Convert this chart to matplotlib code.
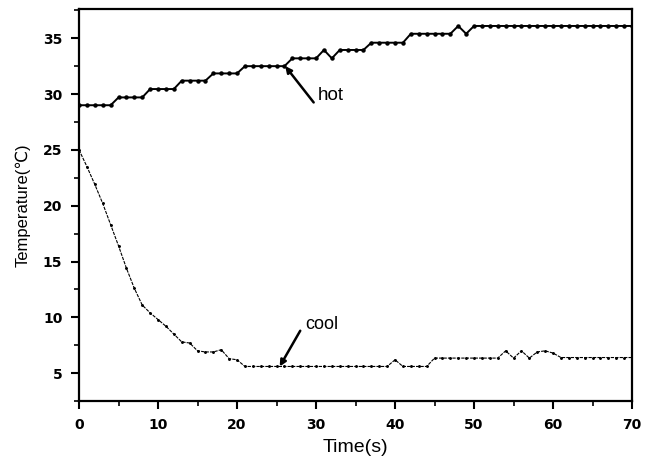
import matplotlib
matplotlib.use("Agg")
import matplotlib.pyplot as plt
from matplotlib.ticker import MultipleLocator

plt.rcParams['font.family'] = ['Liberation Sans', 'DejaVu Sans']

time = list(range(0, 71))

hot = ([29.0] * 5 + [29.7] * 4 + [30.45] * 4 + [31.2] * 4 + [31.85] * 4 +
       [32.5] * 6 + [33.2] * 4 + [33.95, 33.2] + [33.95] * 4 + [34.6] * 5 +
       [35.4] * 6 + [36.1, 35.4] + [36.1] * 21)

cool = ([25.0, 23.5, 21.9, 20.2, 18.3, 16.4, 14.4, 12.6, 11.1, 10.4,
         9.8, 9.2, 8.5, 7.8, 7.7, 7.0, 6.9, 6.9, 7.1, 6.3, 6.2] +
        [5.6] * 19 + [6.2] + [5.6] * 4 + [6.35] * 9 +
        [7.0, 6.35, 7.0, 6.35, 6.9, 7.0, 6.8] + [6.4] * 10)

fig = plt.figure(figsize=(6.51, 4.61), dpi=100)
ax = fig.add_axes([0.1214, 0.130, 0.8495, 0.850])

ax.plot(time, hot, color="black", lw=1.4, marker="o", ms=2.2)
ax.plot(time, cool, color="black", lw=0.8, ls=(0, (3, 1)), marker=".", ms=2.2)

# labels with pointer lines
ax.annotate("", xy=(26.1, 32.5), xytext=(29.7, 29.25),
            arrowprops=dict(arrowstyle="-|>", lw=1.8, color="black",
                            mutation_scale=9, shrinkA=0, shrinkB=0))
ax.text(30.2, 29.85, "hot", fontsize=13.5, va="center", ha="left")
ax.annotate("", xy=(25.4, 5.6), xytext=(28.0, 8.8),
            arrowprops=dict(arrowstyle="-|>", lw=1.8, color="black",
                            mutation_scale=9, shrinkA=0, shrinkB=0))
ax.text(28.6, 9.4, "cool", fontsize=13, va="center", ha="left")

ax.set_xlim(0, 70)
ax.set_ylim(2.5, 37.6)
ax.xaxis.set_major_locator(MultipleLocator(10))
ax.xaxis.set_minor_locator(MultipleLocator(5))
ax.yaxis.set_minor_locator(MultipleLocator(2.5))
ax.set_yticks([5, 10, 15, 20, 25, 30, 35])

ax.tick_params(which="major", direction="out", length=6, width=1.5,
               labelsize=10, pad=6)
ax.tick_params(which="minor", direction="out", length=3.5, width=1.2)
for lab in ax.get_xticklabels() + ax.get_yticklabels():
    lab.set_fontweight("bold")
    lab.set_family(["DejaVu Sans"])
for s in ax.spines.values():
    s.set_linewidth(1.6)

ax.set_xlabel("Time(s)", fontsize=14, labelpad=5)
ax.set_ylabel("Temperature(\u2103)", fontsize=12, labelpad=9)

fig.savefig("out.png", dpi=100)
